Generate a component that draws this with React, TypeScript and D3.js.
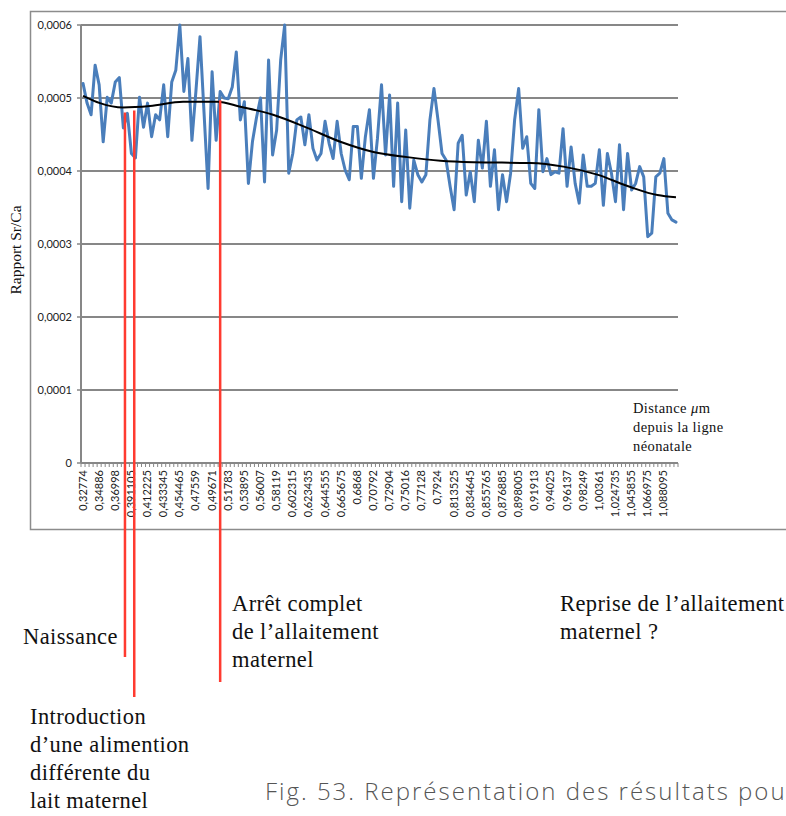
import React from "react";
import * as d3 from "d3";

const srCa: number[] = [
  0.000520, 0.000493, 0.000477, 0.000545, 0.000518, 0.000440, 0.000501, 0.000493, 0.000522, 0.000528,
  0.000459, 0.000479, 0.000424, 0.000418, 0.000501, 0.000460, 0.000493, 0.000447, 0.000477, 0.000470,
  0.000518, 0.000447, 0.000522, 0.000538, 0.000600,
  0.000509, 0.000554, 0.000442, 0.000510, 0.000584, 0.000480, 0.000376, 0.000536, 0.000442, 0.000509,
  0.000500, 0.000499, 0.000515, 0.000563, 0.000470, 0.000495, 0.000383, 0.000440, 0.000473, 0.000500,
  0.000385, 0.000552, 0.000422, 0.000456, 0.000552, 0.000600, 0.000397,
  0.000424, 0.000470, 0.000474, 0.000436, 0.000477, 0.000431, 0.000415, 0.000424, 0.000468, 0.000438,
  0.000417, 0.000468, 0.000424, 0.000401, 0.000388, 0.000461, 0.000461, 0.000390, 0.000447, 0.000484,
  0.000390, 0.000445,
  0.000518, 0.000422, 0.000504, 0.000379, 0.000493, 0.000358, 0.000456, 0.000349, 0.000415, 0.000395,
  0.000385, 0.000395, 0.000470, 0.000513, 0.000470, 0.000424, 0.000415, 0.000379, 0.000347, 0.000438,
  0.000449, 0.000367, 0.000399, 0.000358,
  0.000442, 0.000404, 0.000468, 0.000379, 0.000429, 0.000347, 0.000395, 0.000358, 0.000397, 0.000470,
  0.000513, 0.000431, 0.000447, 0.000383, 0.000376, 0.000484, 0.000399, 0.000417, 0.000395, 0.000399,
  0.000397, 0.000458, 0.000379, 0.000433, 0.000383,
  0.000356, 0.000422, 0.000379, 0.000379, 0.000383, 0.000429, 0.000353, 0.000424, 0.000397, 0.000358,
  0.000436, 0.000347, 0.000424, 0.000374, 0.000383, 0.000406, 0.000392, 0.000310, 0.000315, 0.000392,
  0.000397, 0.000417, 0.000342, 0.000333, 0.000330,
];

// polynomial trend line (category index -> value)
const trendIndex: number[] = [0, 4.2, 9.9, 16.6, 24.8, 33.3, 39, 47.1, 55.6, 63.8, 72, 80.4, 88.6, 96.8, 110.9, 119.1, 127.5, 135.7, 142.4, 147];
const trendValues: number[] = [
  0.000503, 0.000493, 0.000487, 0.000489, 0.000495, 0.000495, 0.000488, 0.000477, 0.000459, 0.000440,
  0.000426, 0.000419, 0.000414, 0.000412, 0.000411, 0.000406, 0.000395, 0.000378, 0.000367, 0.000364,
];

const xTickLabels: string[] = [
  "0,32774", "0,34886", "0,36998", "0,391105", "0,412225", "0,433345", "0,454465", "0,47559", "0,49671",
  "0,51783", "0,53895", "0,56007", "0,58119", "0,602315", "0,623435", "0,644555", "0,665675", "0,6868",
  "0,70792", "0,72904", "0,75016", "0,77128", "0,7924", "0,813525", "0,834645", "0,855765", "0,876885",
  "0,898005", "0,91913", "0,94025", "0,96137", "0,98249", "1,00361", "1,024735", "1,045855", "1,066975",
  "1,088095",
];
const xLabelStep = 4;

const yTicks: number[] = [0, 0.0001, 0.0002, 0.0003, 0.0004, 0.0005, 0.0006];
const yTickLabels: string[] = ["0", "0,0001", "0,0002", "0,0003", "0,0004", "0,0005", "0,0006"];

// event markers: category position, top value, bottom (page y)
const events = [
  { pos: 10.4, top: 0.000480, bottom: 657 },
  { pos: 12.7, top: 0.000483, bottom: 697 },
  { pos: 34.0, top: 0.000497, bottom: 682 },
];

const SERIF = "'Liberation Serif', 'Times New Roman', serif";
const SANS = "Lato, 'Open Sans', sans-serif";

export default function App() {
  const W = 786, H = 816;
  const left = 81, right = 678, top = 25, bottom = 463;
  const idx = srCa.map((_, i) => i);
  const x = d3.scaleBand<number>().domain(idx).range([left, right]).paddingInner(0).paddingOuter(0);
  const bw = x.bandwidth();
  const xc = (i: number) => left + bw * (i + 0.5);
  const y = d3.scaleLinear().domain([0, 0.0006]).range([bottom, top]);

  const dataPath = d3.line<number>().x((_, i) => (x(i) as number) + bw / 2).y((d) => y(d))(srCa) || "";
  const trendPath = d3
    .line<number>()
    .x((_, i) => xc(trendIndex[i]))
    .y((d) => y(d))
    .curve(d3.curveMonotoneX)(trendValues) || "";

  const gridColor = "#878787";

  return (
    <svg width={W} height={H} style={{ position: "absolute", left: 0, top: 0, background: "#fff" }}>
      <rect x={0} y={0} width={W} height={H} fill="#fff" />
      {/* chart frame */}
      <path d={`M${W + 2},11.5 H30.5 V529.5 H${W + 2}`} fill="none" stroke="#8c8c8c" strokeWidth={1.5} />
      {/* gridlines */}
      {yTicks.map((t) => (
        <line key={t} x1={left} x2={right} y1={y(t)} y2={y(t)} stroke={gridColor} strokeWidth={2} />
      ))}
      {/* y axis */}
      <line x1={left} x2={left} y1={top} y2={bottom} stroke={gridColor} strokeWidth={2} />
      {yTicks.map((t) => (
        <line key={"yt" + t} x1={left - 4} x2={left} y1={y(t)} y2={y(t)} stroke={gridColor} strokeWidth={1.5} />
      ))}
      {yTicks.map((t, i) => (
        <text key={"yl" + t} x={72} y={y(t) + 4} textAnchor="end" fontFamily={SANS} fontSize={11} fill="#222">
          {yTickLabels[i]}
        </text>
      ))}
      {/* x axis ticks */}
      {idx.concat([srCa.length]).map((i) => {
        const xx = i < srCa.length ? (x(i) as number) : right;
        return <line key={"xt" + i} x1={xx} x2={xx} y1={bottom} y2={bottom + 4} stroke={gridColor} strokeWidth={1} />;
      })}
      {xTickLabels.map((lab, k) => {
        const xx = xc(k * xLabelStep) + 3.5;
        return (
          <text
            key={"xl" + k}
            transform={`translate(${xx},${bottom + 7}) rotate(-90)`}
            textAnchor="end"
            fontFamily={SANS}
            fontSize={11}
            fill="#222"
          >
            {lab}
          </text>
        );
      })}
      {/* y title */}
      <text transform="translate(21,250) rotate(-90)" textAnchor="middle" fontFamily={SERIF} fontSize={15.5} fill="#111">
        Rapport Sr/Ca
      </text>
      {/* data line */}
      <path d={dataPath} fill="none" stroke="#4a7ebb" strokeWidth={3} strokeLinejoin="round" strokeLinecap="round" />
      {/* trend */}
      <path d={trendPath} fill="none" stroke="#000" strokeWidth={2} />
      {/* event lines */}
      {events.map((e, i) => (
        <line key={"ev" + i} x1={xc(e.pos)} x2={xc(e.pos)} y1={y(e.top)} y2={e.bottom} stroke="#ff3b30" strokeWidth={2.5} />
      ))}
      {/* x title */}
      <g fontFamily={SERIF} fontSize={14.5} fill="#111" letterSpacing={0.4}>
        <text x={633} y={413}>
          Distance <tspan fontStyle="italic">μ</tspan>m
        </text>
        <text x={633} y={432}>depuis la ligne</text>
        <text x={633} y={451}>néonatale</text>
      </g>
      {/* annotations */}
      <g fontFamily={SERIF} fontSize={22.5} fill="#111" letterSpacing={0.4}>
        <text x={23} y={644}>Naissance</text>
        <text x={232} y={611}>Arrêt complet</text>
        <text x={232} y={639}>de l’allaitement</text>
        <text x={232} y={667}>maternel</text>
        <text x={560} y={611}>Reprise de l’allaitement</text>
        <text x={560} y={639}>maternel ?</text>
        <text x={30} y={724}>Introduction</text>
        <text x={30} y={752}>d’une alimention</text>
        <text x={30} y={780}>différente du</text>
        <text x={30} y={808}>lait maternel</text>
      </g>
      <text x={265} y={800} fontFamily="'Open Sans', sans-serif" fontWeight={300} fontSize={24} letterSpacing={2} fill="#555">
        Fig. 53. Représentation des résultats pour
      </text>
    </svg>
  );
}
